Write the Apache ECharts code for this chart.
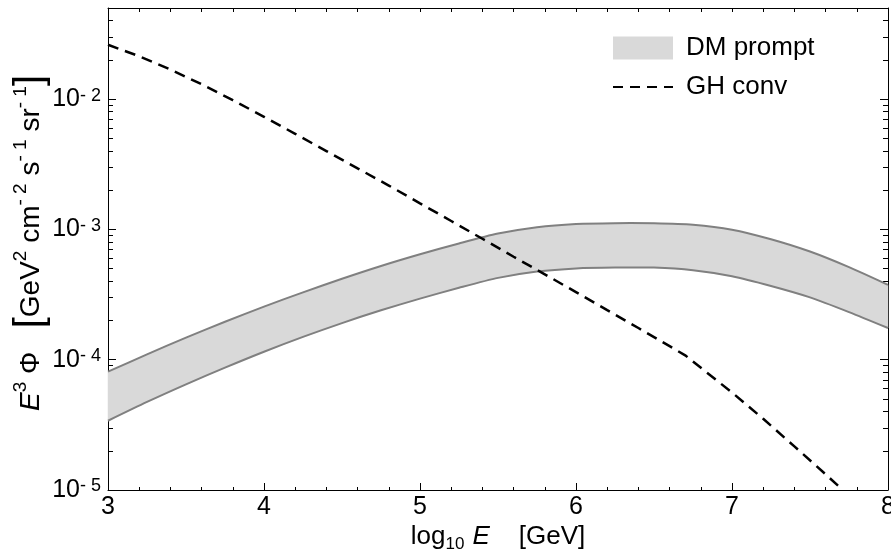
<!DOCTYPE html>
<html><head><meta charset="utf-8">
<script src="https://cdn.jsdelivr.net/npm/echarts@6/dist/echarts.min.js"></script>
<style>html,body{margin:0;padding:0;background:#fff}#c{width:891px;height:549px}</style>
</head><body><div id="c"></div>
<script>
// ---- data ----
const bandX = [3.0, 3.25, 3.5, 3.75, 4.0, 4.25, 4.5, 4.75, 5.0, 5.25, 5.5, 5.75, 6.0, 6.25, 6.5, 6.75, 7.0, 7.25, 7.5, 7.75, 8.0];
const bandUpper = [8.09e-5, 1.099e-4, 1.476e-4, 1.954e-4, 2.553e-4, 3.289e-4, 4.178e-4, 5.236e-4, 6.44e-4, 7.80e-4, 9.29e-4, 1.04e-3, 1.10e-3, 1.117e-3, 1.114e-3, 1.085e-3, 9.95e-4, 8.4e-4, 6.76e-4, 5.13e-4, 3.75e-4];
const bandLower = [3.40e-5, 4.74e-5, 6.47e-5, 8.69e-5, 1.151e-4, 1.496e-4, 1.91e-4, 2.393e-4, 2.944e-4, 3.565e-4, 4.246e-4, 4.75e-4, 5.02e-4, 5.10e-4, 5.09e-4, 4.86e-4, 4.37e-4, 3.68e-4, 3.01e-4, 2.32e-4, 1.75e-4];
const convX = [3.0, 3.2, 3.4, 3.6, 3.8, 4.0, 4.2, 4.4, 4.6, 4.8, 5.0, 5.2, 5.4, 5.6, 5.8, 6.0, 6.2, 6.4, 6.6, 6.7, 7.0, 7.2, 7.4, 7.6, 7.71];
const convFlux = [2.61e-2, 2.133e-2, 1.687e-2, 1.30e-2, 9.82e-3, 7.31e-3, 5.41e-3, 3.99e-3, 2.94e-3, 2.17e-3, 1.585e-3, 1.16e-3, 8.47e-4, 6.17e-4, 4.52e-4, 3.30e-4, 2.40e-4, 1.75e-4, 1.27e-4, 1.08e-4, 5.6e-5, 3.52e-5, 2.16e-5, 1.32e-5, 1.0e-5];
const seriesNames = ['DM prompt', 'GH conv'];
const xRange = [3, 8];
const yRange = [1e-5, 0.05];

// ---- chart ----
const FONT = '"Liberation Sans", Arial, Helvetica, sans-serif';
const chart = echarts.init(document.getElementById('c'), null, {renderer: 'canvas'});

const logMin = Math.log10(yRange[0]), logMax = Math.log10(yRange[1]);
const minorLog = [];
for (let e = Math.floor(logMin); e < Math.ceil(logMax); e++) {
  for (let k = 2; k <= 9; k++) {
    const v = Math.log10(k) + e;
    if (v > logMin && v < logMax) minorLog.push(v);
  }
}

const axisLineStyle = {show: true, lineStyle: {color: '#000', width: 1}};

function yLabel(v) {
  const e = Math.round(Math.log10(v));
  if (Math.abs(Math.log10(v) - e) > 1e-6) return '';
  return '{b|10}{s|' + (e < 0 ? '- ' : '') + Math.abs(e) + '}';
}

const option = {
  animation: false,
  backgroundColor: '#fff',
  textStyle: {fontFamily: FONT},
  grid: {left: 108, right: 3, top: 8, bottom: 59, containLabel: false, outerBoundsMode: 'none'},
  legend: {
    orient: 'vertical', left: 607, top: 30,
    itemWidth: 60, itemHeight: 23, itemGap: 13,
    selectedMode: false,
    textStyle: {fontSize: 26, color: '#000', fontFamily: FONT, padding: [0, 0, 0, 8]},
    data: [
      {name: seriesNames[0], icon: 'rect', itemStyle: {color: '#d9d9d9', borderWidth: 0, opacity: 1}},
      {name: seriesNames[1], itemStyle: {opacity: 0}, lineStyle: {color: '#000', width: 2, type: [10, 7]}}
    ]
  },
  xAxis: [
    {
      type: 'value', position: 'bottom', min: xRange[0], max: xRange[1], interval: 1,
      axisLine: axisLineStyle,
      axisTick: {show: true, inside: true, length: 7, lineStyle: {color: '#000'}},
      minorTick: {show: true, splitNumber: 5, length: 3, lineStyle: {color: '#000'}},
      splitLine: {show: false}, minorSplitLine: {show: false},
      axisLabel: {fontSize: 25, color: '#000', margin: 5, fontFamily: FONT, showMaxLabel: true},
      name: '{t|log}{sub|10}{i| E}{t|    [GeV]}',
      nameLocation: 'middle', nameGap: 34, nameMoveOverlap: false,
      nameTextStyle: {
        color: '#000', fontFamily: FONT,
        rich: {
          t: {fontSize: 26, color: '#000', fontFamily: FONT, verticalAlign: 'top'},
          sub: {fontSize: 17, color: '#000', fontFamily: FONT, verticalAlign: 'bottom', padding: [12, 1, 0, 0]},
          i: {fontSize: 26, color: '#000', fontFamily: FONT, fontStyle: 'italic', verticalAlign: 'top'}
        }
      }
    },
    {
      type: 'value', position: 'top', min: xRange[0], max: xRange[1], interval: 1,
      axisLine: axisLineStyle,
      axisTick: {show: true, inside: true, length: 4, lineStyle: {color: '#000'}},
      minorTick: {show: true, splitNumber: 5, length: 4, lineStyle: {color: '#000'}},
      splitLine: {show: false}, minorSplitLine: {show: false},
      axisLabel: {show: false}
    }
  ],
  yAxis: [
    {
      type: 'log', logBase: 10, position: 'left', min: yRange[0], max: yRange[1],
      axisLine: axisLineStyle,
      axisTick: {show: true, inside: true, length: 8, lineStyle: {color: '#000'}},
      splitLine: {show: false},
      axisLabel: {
        formatter: yLabel, margin: 7, color: '#000', fontFamily: FONT, showMaxLabel: false,
        rich: {
          b: {fontSize: 25, color: '#000', fontFamily: FONT},
          s: {fontSize: 18, color: '#000', fontFamily: FONT, verticalAlign: 'top'}
        }
      },
      name: '{i|E}{sup|3}{t| Φ   }{br|[}{t|GeV}{sup|2}{t| cm}{sup|- 2}{t| s}{sup|- 1}{t| sr}{sup|- 1}{br|]}',
      nameLocation: 'middle', nameRotate: 90, nameGap: 57, nameMoveOverlap: false,
      nameTextStyle: {
        color: '#000', fontFamily: FONT, padding: [0, 0, 0, 12],
        rich: {
          t: {fontSize: 28, color: '#000', fontFamily: FONT},
          i: {fontSize: 28, color: '#000', fontFamily: FONT, fontStyle: 'italic'},
          sup: {fontSize: 19, color: '#000', fontFamily: FONT, verticalAlign: 'top'},
          br: {fontSize: 40, color: '#000', fontFamily: FONT}
        }
      }
    },
    {
      type: 'log', logBase: 10, position: 'right', min: yRange[0], max: yRange[1],
      axisLine: axisLineStyle,
      axisTick: {show: true, inside: true, length: 8, lineStyle: {color: '#000'}},
      splitLine: {show: false},
      axisLabel: {show: false}
    },
    {
      type: 'value', position: 'left', min: logMin, max: logMax,
      axisLine: {show: false},
      axisTick: {show: true, inside: true, length: 5, customValues: minorLog, lineStyle: {color: '#000'}},
      axisLabel: {show: false}, splitLine: {show: false}
    },
    {
      type: 'value', position: 'right', min: logMin, max: logMax,
      axisLine: {show: false},
      axisTick: {show: true, inside: true, length: 5, customValues: minorLog, lineStyle: {color: '#000'}},
      axisLabel: {show: false}, splitLine: {show: false}
    }
  ],
  series: [
    {
      name: seriesNames[0], type: 'custom', xAxisIndex: 0, yAxisIndex: 0,
      itemStyle: {color: '#d9d9d9'},
      encode: {x: 0, y: 1},
      data: bandX.map((x, i) => [x, bandUpper[i]]),
      renderItem: function (params, api) {
        if (params.dataIndex !== 0) return null;
        const up = bandX.map((x, i) => api.coord([x, bandUpper[i]]));
        const lo = bandX.map((x, i) => api.coord([x, bandLower[i]]));
        return {
          type: 'group',
          children: [
            {type: 'polygon', shape: {points: up.concat(lo.slice().reverse())}, style: {fill: '#d9d9d9', stroke: '#d9d9d9', lineWidth: 0.5}},
            {type: 'polyline', shape: {points: up, smooth: 0.25}, style: {fill: null, stroke: '#808080', lineWidth: 2}},
            {type: 'polyline', shape: {points: lo, smooth: 0.25}, style: {fill: null, stroke: '#808080', lineWidth: 2}}
          ]
        };
      }
    },
    {
      name: seriesNames[1], type: 'line', xAxisIndex: 0, yAxisIndex: 0,
      data: convX.map((x, i) => [x, convFlux[i]]),
      symbol: 'none', showSymbol: false,
      itemStyle: {color: '#000'},
      lineStyle: {color: '#000', width: 2.5, type: [11, 7]},
      z: 5
    }
  ]
};
chart.setOption(option);
</script>
</body></html>
